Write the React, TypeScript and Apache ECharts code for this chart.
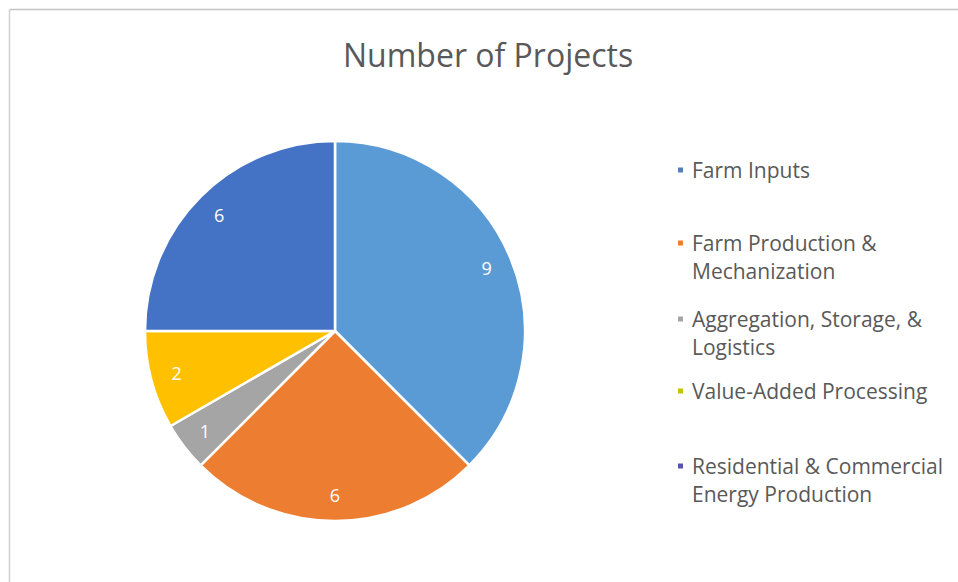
import React, { useEffect, useRef } from "react";
import * as echarts from "echarts";

const categories = [
  "Farm Inputs",
  "Farm Production & Mechanization",
  "Aggregation, Storage, & Logistics",
  "Value-Added Processing",
  "Residential & Commercial Energy Production",
];
const values = [9, 6, 1, 2, 6];
const sliceColors = ["#5B9BD5", "#ED7D31", "#A5A5A5", "#FFC000", "#4472C4"];
const markerColors = ["#4F7FBD", "#ED7D31", "#A5A5A5", "#C4C400", "#5454AE"];
const legendLines = [
  "Farm Inputs",
  "Farm Production &\nMechanization",
  "Aggregation, Storage, &\nLogistics",
  "Value-Added Processing",
  "Residential & Commercial\nEnergy Production",
];
const legendTops = [156, 229, 305, 377, 452];

const FONT = "'Open Sans', sans-serif";
const shortIcon = "path://M0,0L7,0L7,7L0,7Z M9.95,6.95L10,6.95L10,7L9.95,7Z";
const tallIcon = "path://M0,0L7,0L7,7L0,7Z M9.95,34.95L10,34.95L10,35L9.95,35Z";

export default function App() {
  const ref = useRef<HTMLDivElement>(null);
  useEffect(() => {
    if (!ref.current) return;
    const chart = echarts.init(ref.current, undefined, { renderer: "svg" });
    const data = categories.map((name, i) => ({
      name,
      value: values[i],
      itemStyle: { color: sliceColors[i] },
    }));
    const legends = categories.map((name, i) => {
      const twoLine = legendLines[i].includes("\n");
      return {
        orient: "vertical",
        left: 676,
        top: legendTops[i],
        padding: 0,
        selectedMode: false,
        icon: twoLine ? tallIcon : shortIcon,
        itemWidth: 10,
        itemHeight: twoLine ? 35 : 7,
        data: [{ name, itemStyle: { color: markerColors[i] } }],
        formatter: () => legendLines[i],
        textStyle: {
          fontFamily: FONT,
          fontSize: 21,
          color: "#595959",
          lineHeight: 28,
        },
      };
    });
    chart.setOption({
      animation: false,
      backgroundColor: "#ffffff",
      title: {
        text: "Number of Projects",
        left: 343,
        top: 32,
        padding: 0,
        textStyle: {
          fontFamily: FONT,
          fontSize: 32,
          fontWeight: "normal",
          color: "#595959",
          lineHeight: 44,
        },
      },
      legend: legends,
      graphic: [
        {
          type: "line",
          shape: { x1: 9.5, y1: 9.5, x2: 958, y2: 9.5 },
          style: { stroke: "#c4c4c4", lineWidth: 1.5 },
        },
        {
          type: "line",
          shape: { x1: 9.5, y1: 9.5, x2: 9.5, y2: 582 },
          style: { stroke: "#d0d0d0", lineWidth: 1.5 },
        },
      ],
      series: [
        {
          type: "pie",
          center: [335, 331],
          radius: 190,
          startAngle: 90,
          clockwise: true,
          silent: true,
          data,
          itemStyle: { borderColor: "#ffffff", borderWidth: 2.5 },
          label: { show: false },
          labelLine: { show: false },
        },
        {
          type: "pie",
          center: [335, 331],
          radius: [132, 190],
          startAngle: 90,
          clockwise: true,
          silent: true,
          data: categories.map((name, i) => ({ name, value: values[i] })),
          itemStyle: { color: "rgba(0,0,0,0)", borderWidth: 0 },
          label: {
            show: true,
            position: "inside",
            formatter: "{c}",
            color: "#ffffff",
            fontFamily: FONT,
            fontSize: 18,
          },
          labelLine: { show: false },
        },
      ],
    });
    return () => chart.dispose();
  }, []);
  return (
    <div
      ref={ref}
      style={{ position: "fixed", left: 0, top: 0, width: 958, height: 582 }}
    />
  );
}
